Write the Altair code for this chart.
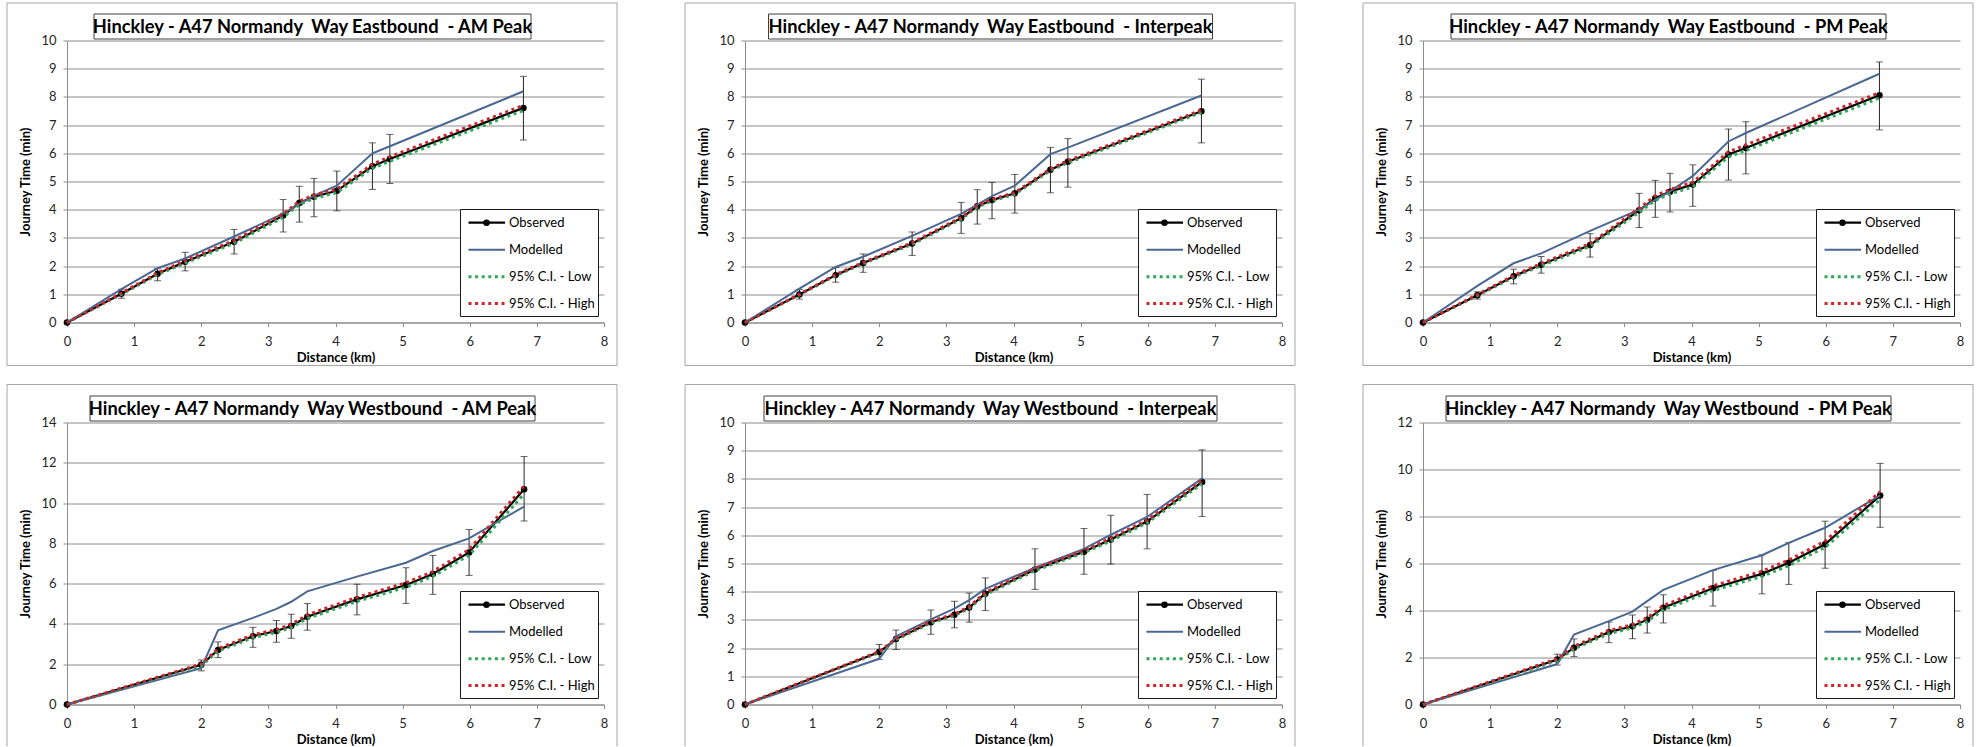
import altair as alt
import pandas as pd

# ---------------- data ----------------
panel_titles = [
    "Hinckley - A47 Normandy \u00a0Way Eastbound \u00a0- AM Peak",
    "Hinckley - A47 Normandy \u00a0Way Eastbound \u00a0- Interpeak",
    "Hinckley - A47 Normandy \u00a0Way Eastbound \u00a0- PM Peak",
    "Hinckley - A47 Normandy \u00a0Way Westbound \u00a0- AM Peak",
    "Hinckley - A47 Normandy \u00a0Way Westbound \u00a0- Interpeak",
    "Hinckley - A47 Normandy \u00a0Way Westbound \u00a0- PM Peak",
]
legend_labels = ["Observed", "Modelled", "95% C.I. - Low", "95% C.I. - High"]
x_ticks = [0, 1, 2, 3, 4, 5, 6, 7, 8]
y_ticks_10 = [0, 1, 2, 3, 4, 5, 6, 7, 8, 9, 10]
y_ticks_12 = [0, 2, 4, 6, 8, 10, 12]
y_ticks_14 = [0, 2, 4, 6, 8, 10, 12, 14]

eb_distance = [0, 0.81, 1.35, 1.76, 2.49, 3.22, 3.46, 3.68, 4.02, 4.55, 4.81, 6.80]
wb_distance = [0, 2.00, 2.25, 2.77, 3.12, 3.34, 3.58, 4.32, 5.05, 5.45, 5.99, 6.81]

# Eastbound AM
eb_am_observed = [0, 1.02, 1.73, 2.15, 2.86, 3.79, 4.24, 4.46, 4.67, 5.54, 5.80, 7.61]
eb_am_modelled = [0, 1.18, 1.93, 2.27, 3.05, 3.86, 4.20, 4.50, 4.85, 6.00, 6.25, 8.20]
eb_am_ci_low = [0, 1.00, 1.70, 2.11, 2.81, 3.73, 4.18, 4.40, 4.61, 5.47, 5.72, 7.52]
eb_am_ci_high = [0, 1.04, 1.76, 2.19, 2.91, 3.85, 4.30, 4.52, 4.73, 5.61, 5.88, 7.70]
eb_am_err_low = [0, 0.86, 1.48, 1.83, 2.43, 3.21, 3.56, 3.75, 3.96, 4.72, 4.93, 6.47]
eb_am_err_high = [0, 1.18, 1.92, 2.49, 3.30, 4.36, 4.83, 5.11, 5.37, 6.37, 6.67, 8.73]

# Eastbound Interpeak
eb_ip_observed = [0, 0.99, 1.68, 2.11, 2.80, 3.70, 4.12, 4.34, 4.58, 5.42, 5.70, 7.49]
eb_ip_modelled = [0, 1.20, 1.97, 2.33, 3.07, 3.85, 4.18, 4.48, 4.85, 5.97, 6.20, 8.05]
eb_ip_ci_low = [0, 0.98, 1.66, 2.09, 2.77, 3.67, 4.09, 4.31, 4.55, 5.39, 5.66, 7.45]
eb_ip_ci_high = [0, 1.00, 1.70, 2.13, 2.83, 3.73, 4.15, 4.37, 4.61, 5.45, 5.74, 7.53]
eb_ip_err_low = [0, 0.83, 1.43, 1.78, 2.38, 3.16, 3.49, 3.68, 3.88, 4.60, 4.80, 6.37]
eb_ip_err_high = [0, 1.17, 1.95, 2.43, 3.21, 4.26, 4.71, 4.97, 5.25, 6.21, 6.52, 8.63]

# Eastbound PM
eb_pm_observed = [0, 0.97, 1.64, 2.05, 2.75, 3.98, 4.41, 4.64, 4.89, 5.96, 6.19, 8.06]
eb_pm_modelled = [0, 1.30, 2.10, 2.45, 3.25, 4.00, 4.35, 4.65, 5.20, 6.42, 6.72, 8.82]
eb_pm_ci_low = [0, 0.95, 1.61, 2.01, 2.70, 3.91, 4.33, 4.56, 4.81, 5.87, 6.10, 7.96]
eb_pm_ci_high = [0, 0.99, 1.67, 2.09, 2.80, 4.05, 4.49, 4.72, 4.97, 6.05, 6.30, 8.15]
eb_pm_err_low = [0, 0.83, 1.37, 1.75, 2.32, 3.37, 3.73, 3.92, 4.12, 5.05, 5.27, 6.83]
eb_pm_err_high = [0, 1.09, 1.89, 2.34, 3.15, 4.58, 5.04, 5.29, 5.59, 6.86, 7.12, 9.24]

# Westbound AM
wb_am_observed = [0, 1.97, 2.71, 3.39, 3.65, 3.90, 4.36, 5.22, 5.93, 6.48, 7.55, 10.69]
wb_am_modelled = [0, 1.80, 3.68, 4.30, 4.75, 5.10, 5.62, 6.35, 7.04, 7.62, 8.25, 9.83]
wb_am_ci_low = [0, 1.93, 2.65, 3.32, 3.58, 3.82, 4.27, 5.12, 5.82, 6.36, 7.41, 10.45]
wb_am_ci_high = [0, 2.01, 2.77, 3.46, 3.72, 3.98, 4.45, 5.32, 6.04, 6.60, 7.69, 10.85]
wb_am_err_low = [0, 1.67, 2.33, 2.84, 3.09, 3.29, 3.69, 4.45, 5.02, 5.47, 6.41, 9.11]
wb_am_err_high = [0, 2.21, 3.11, 3.83, 4.17, 4.48, 5.01, 5.97, 6.79, 7.40, 8.69, 12.31]

# Westbound Interpeak
wb_ip_observed = [0, 1.86, 2.32, 2.92, 3.18, 3.44, 3.93, 4.79, 5.42, 5.85, 6.49, 7.89]
wb_ip_modelled = [0, 1.62, 2.42, 3.02, 3.40, 3.70, 4.10, 4.85, 5.52, 6.02, 6.65, 8.02]
wb_ip_ci_low = [0, 1.84, 2.30, 2.89, 3.15, 3.41, 3.89, 4.75, 5.38, 5.80, 6.44, 7.83]
wb_ip_ci_high = [0, 1.88, 2.34, 2.95, 3.21, 3.47, 3.97, 4.83, 5.46, 5.90, 6.54, 7.95]
wb_ip_err_low = [0, 1.60, 1.95, 2.49, 2.72, 2.92, 3.33, 4.08, 4.62, 4.98, 5.52, 6.67]
wb_ip_err_high = [0, 2.13, 2.64, 3.35, 3.66, 3.95, 4.49, 5.52, 6.24, 6.71, 7.45, 9.03]

# Westbound PM
wb_pm_observed = [0, 1.91, 2.42, 3.08, 3.33, 3.61, 4.12, 4.95, 5.56, 6.03, 6.82, 8.89]
wb_pm_modelled = [0, 1.72, 2.98, 3.55, 3.95, 4.40, 4.88, 5.72, 6.35, 6.88, 7.52, 8.90]
wb_pm_ci_low = [0, 1.87, 2.37, 3.01, 3.26, 3.53, 4.03, 4.85, 5.45, 5.91, 6.69, 8.72]
wb_pm_ci_high = [0, 1.95, 2.47, 3.15, 3.40, 3.69, 4.21, 5.05, 5.67, 6.15, 6.95, 9.06]
wb_pm_err_low = [0, 1.68, 2.04, 2.63, 2.80, 3.04, 3.47, 4.19, 4.71, 5.11, 5.80, 7.54]
wb_pm_err_high = [0, 2.14, 2.79, 3.51, 3.81, 4.15, 4.67, 5.70, 6.37, 6.89, 7.80, 10.26]

panels = [
    dict(dist=eb_distance, obs=eb_am_observed, mod=eb_am_modelled, lo=eb_am_ci_low, hi=eb_am_ci_high,
         elo=eb_am_err_low, ehi=eb_am_err_high, yticks=y_ticks_10),
    dict(dist=eb_distance, obs=eb_ip_observed, mod=eb_ip_modelled, lo=eb_ip_ci_low, hi=eb_ip_ci_high,
         elo=eb_ip_err_low, ehi=eb_ip_err_high, yticks=y_ticks_10),
    dict(dist=eb_distance, obs=eb_pm_observed, mod=eb_pm_modelled, lo=eb_pm_ci_low, hi=eb_pm_ci_high,
         elo=eb_pm_err_low, ehi=eb_pm_err_high, yticks=y_ticks_10),
    dict(dist=wb_distance, obs=wb_am_observed, mod=wb_am_modelled, lo=wb_am_ci_low, hi=wb_am_ci_high,
         elo=wb_am_err_low, ehi=wb_am_err_high, yticks=y_ticks_14),
    dict(dist=wb_distance, obs=wb_ip_observed, mod=wb_ip_modelled, lo=wb_ip_ci_low, hi=wb_ip_ci_high,
         elo=wb_ip_err_low, ehi=wb_ip_err_high, yticks=y_ticks_10),
    dict(dist=wb_distance, obs=wb_pm_observed, mod=wb_pm_modelled, lo=wb_pm_ci_low, hi=wb_pm_ci_high,
         elo=wb_pm_err_low, ehi=wb_pm_err_high, yticks=y_ticks_12),
]

# ---------------- styling ----------------
FONT = "Lato"
W, H = 537, 282
title_box_widths = [437, 444, 435, 445, 453, 445]
C_OBS = "#000000"
C_MOD = "#4A6794"
C_LOW = "#2FA85A"
C_HIGH = "#D3232A"
C_ERR = "#262626"
C_GRID = "#8C8C8C"
C_FRAME = "#A6A6A6"
DOT = [3, 3.6]

legend_styles = [
    dict(color=C_OBS, width=2.2, dash=None),
    dict(color=C_MOD, width=2.0, dash=None),
    dict(color=C_LOW, width=3.0, dash=DOT),
    dict(color=C_HIGH, width=3.0, dash=DOT),
]


def one():
    return alt.Data(values=[{"k": 0}])


def make_panel(i, top_row):
    p = panels[i]
    df = pd.DataFrame({"dist": p["dist"], "obs": p["obs"], "mod": p["mod"], "lo": p["lo"],
                       "hi": p["hi"], "elo": p["elo"], "ehi": p["ehi"]})
    ymax = p["yticks"][-1]
    xenc = alt.X("dist:Q", scale=alt.Scale(domain=[0, 8], nice=False),
                 axis=alt.Axis(values=x_ticks, title="Distance (km)", grid=False,
                               labelFlush=False, format="d"))
    yscale = alt.Scale(domain=[0, ymax], nice=False)
    yaxis = alt.Axis(values=p["yticks"], title="Journey Time (min)", grid=True, format="d")

    def Y(f):
        return alt.Y(f"{f}:Q", scale=yscale, axis=yaxis)

    layers = []
    # chart frame
    ftop = -37.5 if top_row else -38
    if top_row:
        layers.append(alt.Chart(one()).mark_rect(fillOpacity=0, stroke=C_FRAME, strokeWidth=1).encode(
            x=alt.value(-60), x2=alt.value(550), y=alt.value(ftop), y2=alt.value(H + 43)))
    else:
        layers.append(alt.Chart(one()).mark_rule(stroke=C_FRAME, strokeWidth=1).encode(
            x=alt.value(-60), x2=alt.value(550), y=alt.value(ftop)))
        layers.append(alt.Chart(one()).mark_rule(stroke=C_FRAME, strokeWidth=1).encode(
            x=alt.value(-60), y=alt.value(ftop), y2=alt.value(H + 42)))
        layers.append(alt.Chart(one()).mark_rule(stroke=C_FRAME, strokeWidth=1).encode(
            x=alt.value(550), y=alt.value(ftop), y2=alt.value(H + 42)))

    base = alt.Chart(df)
    err = base.transform_filter("datum.dist > 0")
    layers.append(err.mark_rule(color=C_ERR, strokeWidth=1).encode(x=xenc, y=Y("elo"), y2="ehi:Q"))
    layers.append(err.mark_tick(orient="horizontal", size=7, thickness=1, color=C_ERR).encode(x=xenc, y=Y("elo")))
    layers.append(err.mark_tick(orient="horizontal", size=7, thickness=1, color=C_ERR).encode(x=xenc, y=Y("ehi")))
    layers.append(base.mark_line(color=C_OBS, strokeWidth=2.2).encode(x=xenc, y=Y("obs")))
    layers.append(base.mark_point(filled=True, color=C_OBS, size=42, opacity=1).encode(x=xenc, y=Y("obs")))
    layers.append(base.mark_line(color=C_MOD, strokeWidth=2).encode(x=xenc, y=Y("mod")))
    layers.append(base.mark_line(color=C_LOW, strokeWidth=3, strokeDash=DOT).encode(x=xenc, y=Y("lo")))
    layers.append(base.mark_line(color=C_HIGH, strokeWidth=3, strokeDash=DOT).encode(x=xenc, y=Y("hi")))

    # title box + title text
    cx = 245.5
    bw = title_box_widths[i]
    layers.append(alt.Chart(one()).mark_rect(fill="white", stroke="#404040", strokeWidth=1).encode(
        x=alt.value(cx - bw / 2), x2=alt.value(cx + bw / 2), y=alt.value(-26.5), y2=alt.value(-1.5)))
    layers.append(alt.Chart(alt.Data(values=[{"t": panel_titles[i]}])).mark_text(
        font=FONT, fontSize=18.3, fontWeight="bold", color="#000000", align="center",
        baseline="alphabetic").encode(text="t:N", x=alt.value(cx), y=alt.value(-7.5)))

    # legend box
    layers.append(alt.Chart(one()).mark_rect(fill="white", stroke="#1a1a1a", strokeWidth=1).encode(
        x=alt.value(393.5), x2=alt.value(531.5), y=alt.value(169), y2=alt.value(276)))
    ys = [182.2, 209.3, 236.2, 263.0]
    for k, (lab, st) in enumerate(zip(legend_labels, legend_styles)):
        kw = dict(color=st["color"], strokeWidth=st["width"])
        if st["dash"] is not None:
            kw["strokeDash"] = st["dash"]
        layers.append(alt.Chart(one()).mark_rule(**kw).encode(
            x=alt.value(401.5), x2=alt.value(438), y=alt.value(ys[k])))
        if k == 0:
            layers.append(alt.Chart(one()).mark_point(filled=True, color=C_OBS, size=42, opacity=1).encode(
                x=alt.value(419.5), y=alt.value(ys[k])))
        layers.append(alt.Chart(alt.Data(values=[{"t": lab}])).mark_text(
            font=FONT, fontSize=13, color="#000000", align="left", baseline="middle").encode(
            text="t:N", x=alt.value(442), y=alt.value(ys[k])))

    return alt.layer(*layers).properties(width=W, height=H)


chart = alt.concat(
    *[make_panel(i, i < 3) for i in range(6)],
    columns=3, spacing={"row": 100, "column": 141}, bounds="flush",
).properties(
    padding={"left": 6, "top": 2.5, "right": 0, "bottom": 0},
    background="white",
).configure_view(strokeWidth=0).configure_axis(
    labelFont=FONT, labelFontSize=13, labelColor="#262626",
    titleFont=FONT, titleFontSize=13, titleFontWeight="bold", titleColor="#000000",
    domainColor=C_GRID, tickColor=C_GRID, gridColor=C_GRID, domainWidth=1, tickWidth=1, gridWidth=1,
    tickSize=4,
).configure_axisX(labelPadding=9, titlePadding=3).configure_axisY(labelPadding=7, titlePadding=8.5)

chart.save("out.html", embed_options={"renderer": "svg", "actions": False})
